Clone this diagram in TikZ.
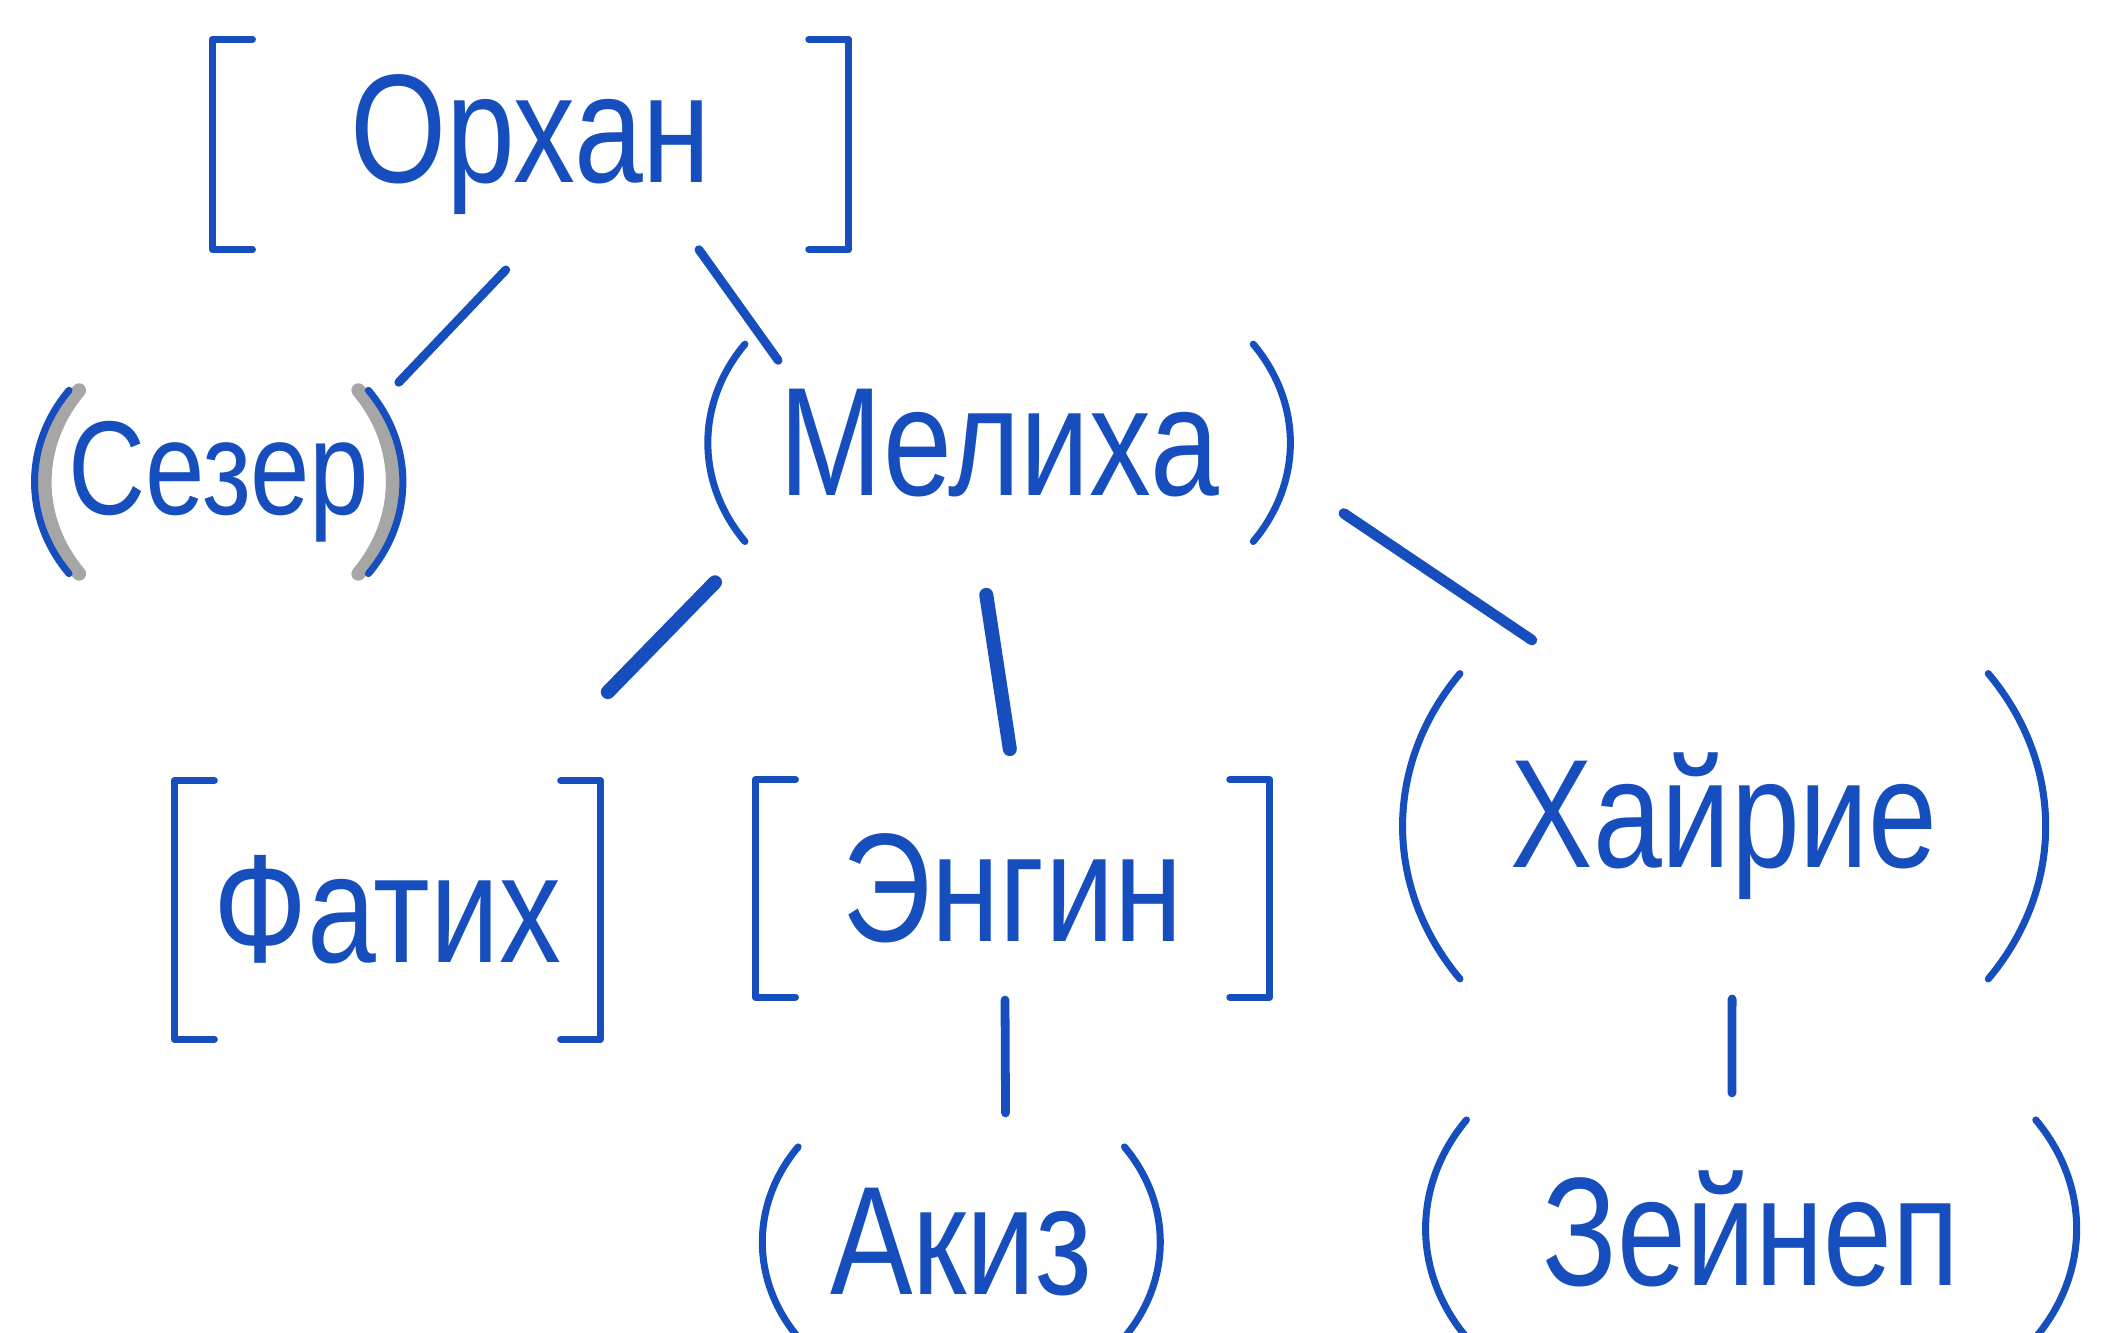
\documentclass[tikz,border=0pt]{standalone}
\usepackage{fontspec}
\usepackage{tikz}
\newfontfamily\hand{Liberation Sans}[FakeStretch=0.8]
\definecolor{pen}{RGB}{22,78,190}
\tikzset{
  person/.style={font=\hand\fontsize{44}{48}\selectfont, text=pen, inner sep=0pt},
  brk/.style={draw=pen, line width=2pt, line cap=round, line join=round},
  sqbox/.style={person, append after command={\pgfextra{\let\bnode\tikzlastnode
    \draw[brk] ([xshift=0.4cm]\bnode.north west) -- (\bnode.north west) -- (\bnode.south west) -- ([xshift=0.4cm]\bnode.south west)
      ([xshift=-0.4cm]\bnode.north east) -- (\bnode.north east) -- (\bnode.south east) -- ([xshift=-0.4cm]\bnode.south east);}}},
  rdbox/.style={person, append after command={\pgfextra{\let\bnode\tikzlastnode
    \draw[brk] ([xshift=0.3cm]\bnode.north west) to[bend right=40] ([xshift=0.3cm]\bnode.south west)
      ([xshift=-0.3cm]\bnode.north east) to[bend left=40] ([xshift=-0.3cm]\bnode.south east);}}},
  greyrim/.style={append after command={\pgfextra{\let\gnode\tikzlastnode
    \draw[draw=gray!70, line width=4pt, line cap=round] ([xshift=0.4cm]\gnode.north west) to[bend right=40] ([xshift=0.4cm]\gnode.south west)
      ([xshift=-0.4cm]\gnode.north east) to[bend left=40] ([xshift=-0.4cm]\gnode.south east);}}},
  link/.style={draw=pen, line width=2.5pt, line cap=round}
}
\begin{document}
\begin{tikzpicture}[x=0.0135cm, y=-0.0135cm]
\useasboundingbox (0,0) rectangle (1568,987);

\node[sqbox, minimum width=6.35cm, minimum height=2.09cm] (orhan) at (393,107) {Орхан};
\node[greyrim, rdbox, minimum width=3.58cm, minimum height=1.82cm, font=\hand\fontsize{38}{40}\selectfont] (sezer) at (162,357) {Сезер};
\node[rdbox, minimum width=5.67cm, minimum height=1.96cm] (meliha) at (740,328) {Мелиха};
\node[sqbox, minimum width=4.25cm, minimum height=2.57cm] (fatih) at (287,674) {Фатих};
\node[sqbox, minimum width=5.13cm, minimum height=2.16cm] (engin) at (750,658) {Энгин};
\node[rdbox, minimum width=5.87cm, minimum height=3.04cm] (hayrie) at (1277,612) {Хайрие};
\node[rdbox, minimum width=3.85cm, minimum height=1.89cm] (akiz) at (712,920) {Акиз};
\node[rdbox, minimum width=6.28cm, minimum height=2.16cm] (zeynep) at (1297,910) {Зейнеп};

\draw[link, shorten <=0.28cm, shorten >=0.11cm] (orhan.-93) -- (sezer.28);
\draw[link, shorten >=-0.2cm] (orhan.-32) -- (meliha.157);
\draw[link, line width=4pt, shorten <=0.57cm, shorten >=1.24cm] (meliha.202) -- (fatih.44);
\draw[link, line width=4pt, shorten <=0.54cm, shorten >=0.31cm] (meliha.-102) -- (engin.89);
\draw[link, line width=3pt, shorten <=0.73cm, shorten >=0.6cm] (meliha.-6) -- (hayrie.133);
\draw[link, shorten <=0.03cm, shorten >=0.34cm] (engin.-94) -- (akiz.65);
\draw[link, shorten <=0.2cm, shorten >=0.27cm] (hayrie.-87) -- (zeynep.100);
\end{tikzpicture}
\end{document}
